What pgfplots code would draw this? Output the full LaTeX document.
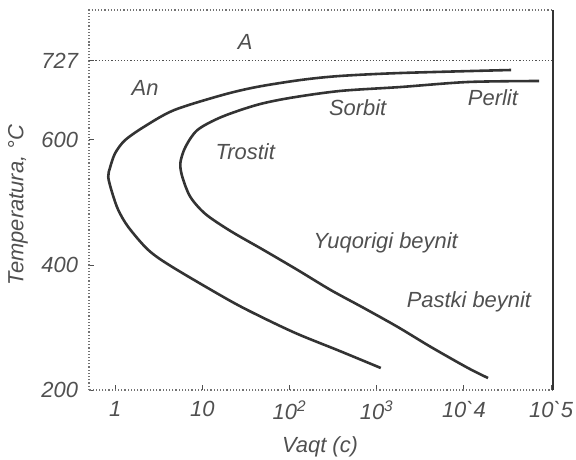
\documentclass[border=0pt]{standalone}
\usepackage{fontspec}
\setmainfont{Liberation Sans}
\usepackage{pgfplots}
\pgfplotsset{compat=1.18}
\definecolor{txt}{HTML}{505050}
\definecolor{crv}{HTML}{333333}
\newcommand{\lf}{\fontsize{11}{13}\selectfont\itshape}
\begin{document}
\begin{tikzpicture}
\useasboundingbox (-44.5bp,-35bp) rectangle (243.5bp,195bp);
\begin{axis}[
  xmode=log, scale only axis, width=232bp, height=190bp,
  xmin=0.5, xmax=1.05e5, ymin=200, ymax=808,
  xtick={1,10,100,1000,10000,100000},
  xticklabels={1,10,10\textsuperscript{2},10\textsuperscript{3},10\textasciigrave4,10\textasciigrave5},
  ytick={200,400,600,727}, yticklabels={200,400,600,727},
  xtick pos=bottom, ytick pos=left,
  xminorticks=false, yminorticks=false,
  tick align=inside, major tick length=2.5bp,
  tick style={txt, line width=0.5pt},
  tick label style={font=\lf, text=txt},
  xticklabel style={yshift=-2bp},
  yticklabel style={xshift=-2bp},
  axis line style={txt!80, densely dotted, line width=0.6pt},
  xlabel={Vaqt (c)}, ylabel={Temperatura, °C},
  label style={font=\lf, text=txt},
  xlabel style={at={(axis description cs:0.498,-0.150)}, anchor=center},
  ylabel style={at={(axis description cs:-0.153,0.487)}, anchor=center},
  clip=false,
]
\draw[crv, line width=0.7pt] (rel axis cs:1,0) -- (rel axis cs:1,1);
\draw[txt, densely dotted, line width=0.6pt] (axis cs:0.5,727) -- (axis cs:1.05e5,727);
\addplot[crv, line width=1.3pt, smooth, no markers] coordinates {
(1112,235.2) (375.8,262.4) (123.6,289.6) (50.23,315.2) (20.98,342.4) (4.519,396.8) (2.394,424) (1.411,460.8) (1.083,488) (0.924,515.2) (0.831,540.8) (0.876,556.8) (1.0,579.2) (1.303,600) (2.213,622.4) (4.766,648) (16.98,672) (41.78,684.8) (133.7,696) (375.8,702.4) (1888,707.2) (34670,712)
};
\addplot[crv, line width=1.3pt, smooth, no markers] coordinates {
(18880,219.2) (11120,235.2) (4178,268.8) (1742,300.8) (709.6,331.2) (295.8,360) (123.6,392) (50.23,424) (20.98,454.4) (10.83,481.6) (7.278,508.8) (5.888,540.8) (5.585,563.2) (6.383,588.8) (8.770,616) (16.52,636.8) (41.78,656) (100,667.2) (375.8,678.4) (1888,684.8) (11120,692.8) (72780,694.4)
};
\begin{scope}[every node/.style={font=\lf, text=txt}]
\node at (axis cs:31,757) {A};
\node at (axis cs:2.2,683) {An};
\node at (axis cs:31,581) {Trostit};
\node at (axis cs:604,651) {Sorbit};
\node at (axis cs:21500,667) {Perlit};
\node at (axis cs:1265,435) {Yuqorigi beynit};
\node at (axis cs:11400,341) {Pastki beynit};
\end{scope}
\end{axis}
\end{tikzpicture}
\end{document}
